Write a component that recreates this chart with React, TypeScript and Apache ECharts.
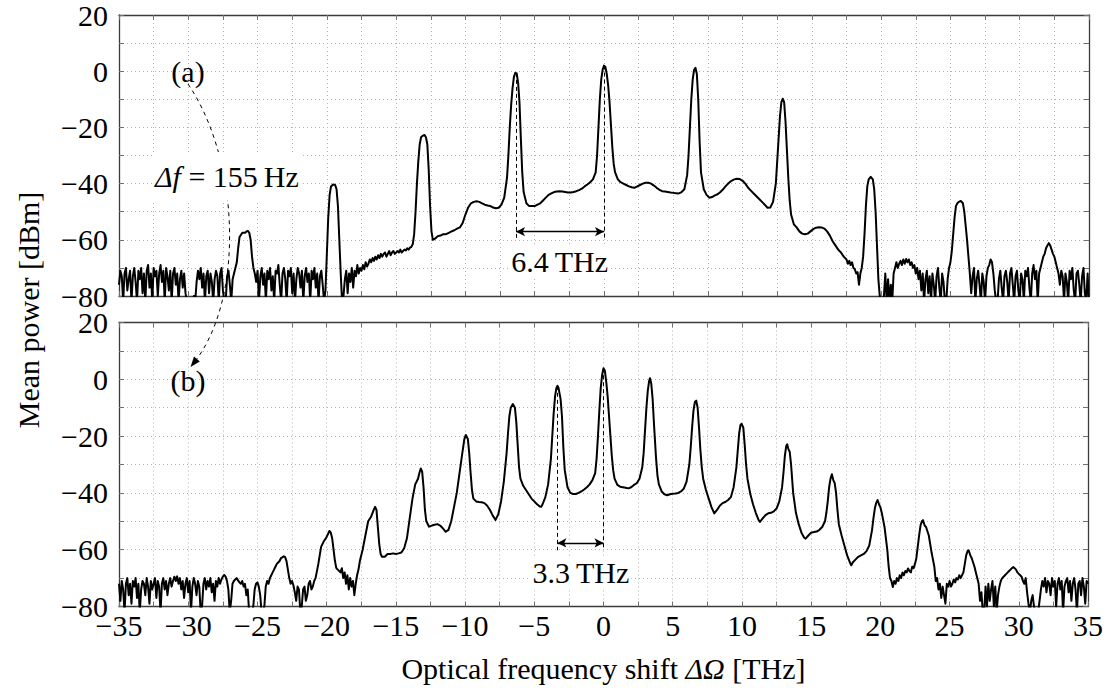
import React, { useEffect, useRef } from "react";
import * as echarts from "echarts";

// ---------- data ----------
// panel (a): Δf = 155 Hz, spectrum [frequency shift THz, mean power dBm]
const spectrumA: [number, number][] = [
  [-35.0, -76], [-34.9, -71], [-34.8, -73], [-34.7, -82], [-34.6, -72], [-34.5, -70], [-34.4, -78], [-34.3, -74],
  [-34.2, -71], [-34.1, -82], [-34.0, -73], [-33.9, -70], [-33.8, -75], [-33.7, -82], [-33.6, -71], [-33.5, -74],
  [-33.4, -70], [-33.3, -79], [-33.2, -72], [-33.1, -82], [-33.0, -71], [-32.9, -69], [-32.8, -77], [-32.7, -72],
  [-32.6, -82], [-32.5, -70], [-32.4, -73], [-32.3, -71], [-32.2, -80], [-32.1, -72], [-32.0, -69], [-31.9, -75],
  [-31.8, -71], [-31.7, -82], [-31.6, -70], [-31.5, -73], [-31.4, -78], [-31.3, -71], [-31.2, -82], [-31.1, -72],
  [-31.0, -70], [-30.9, -76], [-30.8, -72], [-30.7, -82], [-30.6, -74], [-30.5, -71], [-30.4, -77], [-30.3, -72],
  [-30.2, -79], [-30.1, -82], [-30.0, -82], [-29.9, -82], [-29.8, -82], [-29.7, -82], [-29.6, -80], [-29.5, -82],
  [-29.4, -75], [-29.3, -71], [-29.2, -74], [-29.1, -70], [-29.0, -77], [-28.9, -72], [-28.8, -82], [-28.7, -73],
  [-28.6, -71], [-28.5, -79], [-28.4, -72], [-28.3, -75], [-28.2, -82], [-28.1, -74], [-28.0, -71], [-27.9, -73],
  [-27.8, -82], [-27.7, -72], [-27.6, -70], [-27.5, -78], [-27.4, -82], [-27.3, -82], [-27.2, -73], [-27.1, -71],
  [-27.0, -76], [-26.9, -82], [-26.8, -74], [-26.7, -72], [-26.6, -70],
  [-26.5, -68], [-26.4, -63], [-26.3, -59], [-26.1, -57.5], [-25.9, -57.5], [-25.8, -57], [-25.7, -56.8],
  [-25.6, -57.5], [-25.5, -60], [-25.4, -66], [-25.3, -70],
  [-25.2, -72], [-25.1, -75], [-25.0, -71], [-24.9, -82], [-24.8, -73], [-24.7, -70], [-24.6, -76], [-24.5, -72],
  [-24.4, -82], [-24.3, -71], [-24.2, -74], [-24.1, -70], [-24.0, -78], [-23.9, -73], [-23.8, -82], [-23.7, -71],
  [-23.6, -72], [-23.5, -69], [-23.4, -76], [-23.3, -82], [-23.2, -72], [-23.1, -70], [-23.0, -74], [-22.9, -82],
  [-22.8, -71], [-22.7, -73], [-22.6, -70], [-22.5, -79], [-22.4, -72], [-22.3, -82], [-22.2, -74], [-22.1, -70],
  [-22.0, -72], [-21.9, -77], [-21.8, -71], [-21.7, -82], [-21.6, -73], [-21.5, -70], [-21.4, -75], [-21.3, -72],
  [-21.2, -82], [-21.1, -71], [-21.0, -74], [-20.9, -70], [-20.8, -77], [-20.7, -72], [-20.6, -82], [-20.5, -73],
  [-20.4, -71], [-20.3, -76], [-20.2, -82],
  [-20.1, -78], [-20.0, -65], [-19.9, -52], [-19.8, -44], [-19.7, -41], [-19.55, -40.3], [-19.4, -40.5],
  [-19.3, -42], [-19.2, -48], [-19.1, -60], [-19.0, -72], [-18.9, -82],
  [-18.8, -80], [-18.7, -74], [-18.6, -71], [-18.5, -79], [-18.4, -72], [-18.3, -75], [-18.2, -70], [-18.1, -77],
  [-18.0, -71], [-17.9, -73], [-17.8, -69], [-17.7, -72], [-17.6, -70], [-17.5, -71], [-17.4, -69], [-17.3, -70.5],
  [-17.2, -68], [-17.1, -69.5], [-17.0, -68.5], [-16.9, -67], [-16.8, -68], [-16.7, -66.5], [-16.6, -67.5],
  [-16.5, -66], [-16.4, -67], [-16.3, -65.5], [-16.2, -66.5], [-16.1, -65], [-16.0, -66], [-15.9, -65],
  [-15.8, -64.5], [-15.7, -66], [-15.6, -65], [-15.5, -64], [-15.4, -65.5], [-15.3, -64.5], [-15.2, -64],
  [-15.1, -65], [-15.0, -64.5], [-14.9, -64], [-14.8, -64.5], [-14.7, -63.5], [-14.6, -64.5], [-14.5, -64],
  [-14.4, -63.5], [-14.3, -63.8], [-14.2, -63], [-14.1, -63.5], [-14.0, -62.8], [-13.9, -62.5], [-13.8, -61.5],
  [-13.7, -58], [-13.6, -50], [-13.5, -40], [-13.4, -32], [-13.3, -26], [-13.2, -23.5], [-13.1, -23], [-12.95, -22.7],
  [-12.85, -23.5], [-12.75, -26], [-12.65, -35], [-12.55, -48], [-12.45, -57], [-12.35, -60],
  [-12.2, -59.6], [-12.0, -58.7], [-11.8, -58.5], [-11.6, -58], [-11.4, -58], [-11.2, -57.5], [-11.0, -57],
  [-10.8, -56.6], [-10.6, -56], [-10.4, -55.6], [-10.2, -54], [-10.0, -51], [-9.8, -48.5], [-9.6, -47],
  [-9.4, -46.5], [-9.2, -46.3], [-9.0, -46.5], [-8.8, -47], [-8.6, -47.5], [-8.4, -47.8], [-8.2, -48], [-8.0, -48.5],
  [-7.8, -48.8], [-7.6, -48.6], [-7.4, -47.5], [-7.2, -45], [-7.0, -38],
  [-6.9, -30], [-6.8, -20], [-6.7, -12], [-6.6, -6], [-6.5, -2], [-6.4, -0.6], [-6.3, -0.8], [-6.2, -4],
  [-6.1, -11], [-6.0, -24], [-5.9, -36], [-5.8, -43], [-5.6, -47], [-5.4, -48], [-5.2, -48], [-5.0, -48],
  [-4.8, -47.5], [-4.6, -47], [-4.4, -46], [-4.2, -45], [-4.0, -44], [-3.8, -43.5], [-3.6, -43], [-3.4, -42.8],
  [-3.2, -42.7], [-3.0, -42.8], [-2.8, -43], [-2.6, -43.2], [-2.4, -43.2], [-2.2, -43], [-2.0, -42.7], [-1.8, -42.3],
  [-1.6, -41.8], [-1.4, -41], [-1.2, -40.3], [-1.0, -39.5], [-0.8, -38.5], [-0.6, -36], [-0.5, -30], [-0.4, -20],
  [-0.3, -10], [-0.2, -3], [-0.1, 0.5], [0.0, 2], [0.1, 1.5], [0.2, -1], [0.3, -5], [0.4, -11], [0.5, -19],
  [0.6, -27], [0.7, -33], [0.8, -36], [1.0, -38.5], [1.2, -39.5], [1.4, -40], [1.6, -40.5], [1.8, -41], [2.0, -41.3],
  [2.2, -41.5], [2.4, -41], [2.6, -40.5], [2.8, -40], [3.0, -39.7], [3.2, -39.7], [3.4, -40], [3.6, -40.7],
  [3.8, -41.5], [4.0, -42.2], [4.2, -42.7], [4.4, -42.8], [4.6, -43], [4.8, -43.2], [5.0, -43.3], [5.2, -43.4],
  [5.4, -43.5], [5.6, -43], [5.8, -42], [6.0, -37], [6.1, -30], [6.2, -20], [6.3, -10], [6.4, -3], [6.5, 0.5],
  [6.6, 1.2], [6.7, -1], [6.8, -10], [6.9, -25], [7.0, -36], [7.2, -42], [7.4, -44], [7.6, -45], [7.8, -44.8],
  [8.0, -44.2], [8.2, -43.8], [8.4, -43], [8.6, -42], [8.8, -40.8], [9.0, -39.8], [9.2, -39], [9.4, -38.5],
  [9.6, -38.3], [9.8, -38.4], [10.0, -39], [10.2, -40], [10.4, -41.5], [10.6, -42.5], [10.8, -43.5], [11.0, -44.5],
  [11.2, -45.5], [11.4, -46.5], [11.6, -47.5], [11.8, -48.6], [12.0, -48.5], [12.2, -46.5], [12.4, -40], [12.5, -32],
  [12.6, -24], [12.7, -16], [12.8, -11], [12.9, -9.8], [13.0, -11], [13.1, -18], [13.2, -28], [13.3, -38],
  [13.4, -46], [13.5, -51], [13.7, -54.5], [13.9, -55.6], [14.1, -57], [14.3, -57.8], [14.5, -58], [14.7, -57.8],
  [14.9, -57], [15.1, -56.2], [15.3, -55.7], [15.5, -55.5], [15.7, -55.6], [15.9, -56], [16.1, -57], [16.3, -58.5],
  [16.5, -60.5], [16.7, -62], [16.9, -63.5], [17.1, -64.5], [17.3, -66], [17.5, -67], [17.6, -68.5], [17.7, -67.5],
  [17.8, -69], [17.9, -68], [18.0, -70], [18.1, -70.5], [18.2, -72], [18.3, -71.5], [18.4, -76], [18.5, -72],
  [18.6, -70],
  [18.7, -66], [18.8, -58], [18.9, -48], [19.0, -41], [19.1, -38.5], [19.25, -37.6], [19.4, -38.5], [19.5, -42],
  [19.6, -50], [19.7, -62], [19.8, -74], [19.9, -80], [20.0, -82], [20.1, -82],
  [20.2, -80], [20.3, -72], [20.4, -82], [20.5, -74], [20.6, -82], [20.7, -76], [20.8, -82], [20.9, -72],
  [21.0, -70], [21.1, -68], [21.2, -70], [21.3, -68.5], [21.4, -67.5], [21.5, -69], [21.6, -67], [21.7, -68.5],
  [21.8, -66.8], [21.9, -68], [22.0, -67], [22.1, -69], [22.2, -68], [22.3, -70], [22.4, -69], [22.5, -72],
  [22.6, -70], [22.7, -74], [22.8, -71], [22.9, -78], [23.0, -72], [23.1, -82], [23.2, -74], [23.3, -71],
  [23.4, -79], [23.5, -73], [23.6, -82], [23.7, -72], [23.8, -76], [23.9, -82], [24.0, -73], [24.1, -70],
  [24.2, -77], [24.3, -82], [24.4, -72], [24.5, -75], [24.6, -82], [24.7, -82], [24.8, -74], [24.9, -70],
  [25.0, -68], [25.1, -64], [25.2, -58], [25.3, -52], [25.4, -48], [25.5, -47], [25.6, -46.5], [25.75, -46.2],
  [25.9, -47], [26.0, -50], [26.1, -55], [26.2, -60], [26.3, -66],
  [26.4, -72], [26.5, -79], [26.6, -73], [26.7, -70], [26.8, -82], [26.9, -74], [27.0, -71], [27.1, -76],
  [27.2, -82], [27.3, -72], [27.4, -75], [27.5, -82], [27.6, -73], [27.7, -70], [27.8, -69], [27.9, -67],
  [28.0, -68], [28.1, -72], [28.2, -78], [28.3, -82], [28.4, -82], [28.5, -74], [28.6, -71], [28.7, -77],
  [28.8, -82], [28.9, -73], [29.0, -71], [29.1, -75], [29.2, -82], [29.3, -72], [29.4, -70], [29.5, -76],
  [29.6, -82], [29.7, -73], [29.8, -71], [29.9, -78], [30.0, -82], [30.1, -72], [30.2, -74], [30.3, -82],
  [30.4, -71], [30.5, -73], [30.6, -70], [30.7, -77], [30.8, -82], [30.9, -72], [31.0, -69], [31.1, -74],
  [31.2, -71], [31.3, -82], [31.4, -72], [31.5, -70], [31.6, -68], [31.7, -66], [31.8, -65], [31.9, -63],
  [32.0, -62], [32.1, -61.2], [32.2, -62], [32.3, -63.5], [32.4, -65], [32.5, -66], [32.6, -68], [32.7, -70],
  [32.8, -72], [32.9, -76], [33.0, -71], [33.1, -73], [33.2, -82], [33.3, -72], [33.4, -75], [33.5, -82],
  [33.6, -71], [33.7, -74], [33.8, -70], [33.9, -78], [34.0, -82], [34.1, -72], [34.2, -71], [34.3, -76],
  [34.4, -82], [34.5, -73], [34.6, -70], [34.7, -79], [34.8, -82], [34.9, -72], [35.0, -82],
];

// panel (b): spectrum [frequency shift THz, mean power dBm]
const spectrumB: [number, number][] = [
  [-35.0, -72], [-34.9, -78], [-34.8, -71], [-34.7, -74], [-34.6, -82], [-34.5, -72], [-34.4, -70], [-34.3, -76],
  [-34.2, -72], [-34.1, -79], [-34.0, -71], [-33.9, -73], [-33.8, -70], [-33.7, -77], [-33.6, -72], [-33.5, -82],
  [-33.4, -74], [-33.3, -71], [-33.2, -72], [-33.1, -76], [-33.0, -70], [-32.9, -73], [-32.8, -79], [-32.7, -71],
  [-32.6, -74], [-32.5, -72], [-32.4, -70], [-32.3, -77], [-32.2, -71], [-32.1, -73], [-32.0, -82], [-31.9, -72],
  [-31.8, -70], [-31.7, -74], [-31.6, -71], [-31.5, -76], [-31.4, -72], [-31.3, -70], [-31.2, -73], [-31.1, -71],
  [-31.0, -69.5], [-30.9, -71], [-30.8, -69.4], [-30.7, -72], [-30.6, -70], [-30.5, -74], [-30.4, -71], [-30.3, -77],
  [-30.2, -72], [-30.1, -70], [-30.0, -75], [-29.9, -71], [-29.8, -82], [-29.7, -73], [-29.6, -70], [-29.5, -72],
  [-29.4, -76], [-29.3, -71], [-29.2, -73], [-29.1, -82], [-29.0, -80], [-28.9, -72], [-28.8, -70], [-28.7, -74],
  [-28.6, -71], [-28.5, -73], [-28.4, -70], [-28.3, -75], [-28.2, -72], [-28.1, -78], [-28.0, -71], [-27.9, -73],
  [-27.8, -70], [-27.7, -72], [-27.6, -70.5], [-27.5, -69.5], [-27.4, -68.9], [-27.3, -69.5], [-27.2, -71],
  [-27.1, -74], [-27.0, -82], [-26.9, -78], [-26.8, -72], [-26.7, -71], [-26.6, -70.5], [-26.5, -70], [-26.4, -70.8],
  [-26.3, -71.5], [-26.2, -72], [-26.1, -71], [-26.0, -73], [-25.9, -72], [-25.8, -76], [-25.7, -74], [-25.6, -82],
  [-25.5, -82], [-25.4, -82], [-25.3, -80], [-25.2, -74], [-25.1, -72], [-25.0, -71.5], [-24.9, -73], [-24.8, -76],
  [-24.7, -82], [-24.6, -82], [-24.5, -80], [-24.4, -73], [-24.3, -71], [-24.2, -72], [-24.1, -70], [-24.0, -69],
  [-23.9, -68], [-23.8, -67], [-23.7, -66], [-23.6, -65], [-23.5, -64.5], [-23.4, -64], [-23.3, -63], [-23.2, -62.7],
  [-23.1, -62.3], [-23.0, -62.6], [-22.9, -64], [-22.8, -67], [-22.7, -70], [-22.6, -72], [-22.5, -71],
  [-22.4, -72.5], [-22.3, -75], [-22.2, -78], [-22.1, -73], [-22.0, -74], [-21.9, -82], [-21.8, -80], [-21.7, -74],
  [-21.6, -73], [-21.5, -78], [-21.4, -76], [-21.3, -72], [-21.2, -71], [-21.1, -74], [-21.0, -73], [-20.9, -71],
  [-20.8, -70],
  [-20.6, -65], [-20.4, -59], [-20.2, -57], [-20.0, -55.5], [-19.8, -53.4], [-19.7, -54], [-19.6, -56], [-19.5, -60],
  [-19.4, -64], [-19.3, -66.5], [-19.2, -67], [-19.0, -68], [-18.9, -66.5], [-18.8, -70], [-18.7, -68], [-18.6, -72],
  [-18.5, -69], [-18.4, -74], [-18.3, -70], [-18.2, -73], [-18.1, -71], [-18.0, -76], [-17.9, -72], [-17.8, -69],
  [-17.7, -67], [-17.6, -64], [-17.4, -60], [-17.2, -55], [-17.0, -50], [-16.8, -48.5], [-16.6, -46], [-16.5, -44.9],
  [-16.4, -46], [-16.3, -52], [-16.2, -58], [-16.1, -61.5], [-16.0, -62.5], [-15.8, -62.5], [-15.6, -61.5],
  [-15.4, -61.5], [-15.2, -61.3], [-15.0, -61.5], [-14.8, -61.3], [-14.6, -61], [-14.4, -59.5], [-14.2, -56],
  [-14.0, -49], [-13.8, -42], [-13.6, -37], [-13.4, -35], [-13.3, -33], [-13.2, -31.4], [-13.1, -32.5], [-13.0, -38],
  [-12.9, -46], [-12.8, -50], [-12.6, -51.9], [-12.4, -51.5], [-12.2, -51.2], [-12.0, -51], [-11.8, -51.5],
  [-11.6, -52.5], [-11.4, -53.7], [-11.2, -53], [-11.0, -50], [-10.8, -45], [-10.6, -40], [-10.4, -33], [-10.2, -26],
  [-10.05, -21], [-9.95, -19.6], [-9.8, -21], [-9.7, -26], [-9.6, -33], [-9.5, -39], [-9.4, -42], [-9.2, -43],
  [-9.0, -43.2], [-8.8, -43.3], [-8.6, -43.6], [-8.4, -44.5], [-8.2, -46], [-8.0, -48], [-7.8, -49.5], [-7.6, -47.5],
  [-7.4, -43], [-7.2, -36], [-7.0, -26], [-6.9, -19], [-6.8, -13], [-6.7, -10], [-6.55, -8.7], [-6.4, -10],
  [-6.3, -15], [-6.2, -23], [-6.1, -31], [-6.0, -35], [-5.8, -37.5], [-5.6, -39], [-5.4, -40.5], [-5.2, -42],
  [-5.0, -43], [-4.8, -44], [-4.6, -44.8], [-4.5, -44.9], [-4.4, -44], [-4.2, -41.5], [-4.0, -37], [-3.8, -28],
  [-3.7, -20], [-3.6, -12], [-3.5, -6], [-3.4, -3], [-3.33, -2.3], [-3.25, -3], [-3.1, -7], [-3.0, -13],
  [-2.9, -24], [-2.8, -32], [-2.6, -38], [-2.4, -40], [-2.2, -40.4], [-2.0, -40.4], [-1.8, -40], [-1.6, -39.5],
  [-1.4, -38.8], [-1.2, -38], [-1.0, -37], [-0.8, -35.5], [-0.6, -33], [-0.5, -28], [-0.4, -20], [-0.3, -11],
  [-0.2, -3], [-0.1, 1.5], [0.0, 3.9], [0.1, 3], [0.2, -1], [0.3, -6], [0.4, -13], [0.5, -20], [0.6, -27],
  [0.7, -32], [0.8, -35], [1.0, -37.2], [1.2, -37.8], [1.4, -38], [1.6, -38.2], [1.8, -38.4], [2.0, -38],
  [2.2, -37.2], [2.4, -36.6], [2.6, -35], [2.8, -31], [2.9, -26], [3.0, -18], [3.1, -10], [3.2, -4], [3.3, -0.5],
  [3.36, 0.4], [3.45, -1.5], [3.55, -7], [3.65, -16], [3.8, -28], [3.9, -34], [4.0, -37], [4.2, -39.5],
  [4.4, -40.5], [4.6, -40.8], [4.8, -40.5], [5.0, -40.3], [5.2, -40.2], [5.4, -40], [5.6, -39.5], [5.8, -38.5],
  [6.0, -36], [6.2, -30], [6.3, -24], [6.4, -17], [6.5, -11], [6.6, -8], [6.7, -7.5], [6.8, -10], [6.9, -17],
  [7.0, -25], [7.1, -31], [7.2, -35], [7.4, -39], [7.6, -42], [7.8, -45], [8.0, -47.2], [8.2, -46], [8.4, -44.5],
  [8.6, -43.6], [8.8, -43.2], [9.0, -42.5], [9.2, -41.5], [9.4, -38], [9.6, -31], [9.7, -25], [9.8, -19], [9.9, -16],
  [9.98, -15.7], [10.1, -17], [10.2, -23], [10.3, -30], [10.4, -35], [10.6, -40.3], [10.8, -44], [11.0, -47],
  [11.2, -49.5], [11.3, -50.2], [11.5, -49], [11.7, -47.8], [11.9, -47.2], [12.1, -47], [12.3, -46.5], [12.5, -45.5],
  [12.7, -43], [12.9, -38], [13.0, -33], [13.1, -27], [13.2, -23.5], [13.27, -22.9], [13.35, -24.5], [13.45, -25.5],
  [13.55, -30], [13.7, -40], [13.9, -47], [14.1, -51], [14.3, -54], [14.5, -55.8], [14.6, -56.1], [14.8, -55],
  [15.0, -54], [15.2, -53.8], [15.4, -53.6], [15.6, -53], [15.8, -52], [16.0, -50], [16.1, -47], [16.2, -43],
  [16.3, -38], [16.4, -35], [16.5, -33.4], [16.6, -35.5], [16.7, -36.5], [16.8, -40], [16.9, -46], [17.0, -51],
  [17.2, -55], [17.4, -58.5], [17.6, -62], [17.8, -64.5], [17.9, -65.5], [18.0, -64.5], [18.2, -63.5], [18.4, -62.5],
  [18.6, -62], [18.8, -61.5], [19.0, -60.5], [19.2, -58.5], [19.4, -53], [19.5, -49], [19.6, -45.5], [19.7, -43.5],
  [19.8, -42.5], [19.9, -44], [20.0, -45], [20.1, -47], [20.3, -52], [20.5, -60], [20.6, -66], [20.7, -70],
  [20.8, -71], [20.9, -73.1], [21.0, -71], [21.1, -72], [21.2, -70], [21.3, -71], [21.4, -69], [21.5, -70],
  [21.6, -68], [21.7, -69], [21.8, -67.5], [21.9, -68], [22.0, -66.6], [22.1, -67.5], [22.2, -68], [22.3, -66],
  [22.4, -66.5], [22.5, -65], [22.6, -63], [22.7, -59], [22.8, -55], [22.9, -51.5], [23.0, -50], [23.08, -49.6],
  [23.2, -51.5], [23.3, -52], [23.5, -55], [23.7, -61], [23.9, -66], [24.0, -71], [24.1, -70], [24.2, -74],
  [24.3, -72], [24.4, -77], [24.5, -73], [24.6, -76], [24.7, -79], [24.8, -72], [24.9, -73], [25.0, -71],
  [25.1, -73], [25.2, -72], [25.3, -70.5], [25.4, -71.5], [25.5, -70], [25.6, -70.5], [25.7, -69], [25.8, -70],
  [25.9, -69], [26.0, -68], [26.1, -65], [26.2, -62], [26.3, -60.5], [26.38, -60.2], [26.5, -62], [26.6, -63],
  [26.8, -66], [26.9, -68], [27.0, -70], [27.1, -72], [27.2, -78], [27.3, -75], [27.4, -82], [27.5, -82],
  [27.6, -73], [27.7, -80], [27.8, -72], [27.9, -78], [28.0, -74], [28.1, -71], [28.2, -80], [28.3, -73],
  [28.4, -82], [28.5, -76], [28.6, -73], [28.7, -71], [28.8, -70], [28.9, -69.5], [29.0, -69], [29.1, -68.5],
  [29.2, -68], [29.3, -67.5], [29.4, -67], [29.5, -66.5], [29.6, -66.1], [29.7, -66.5], [29.8, -67], [29.9, -68],
  [30.0, -68.5], [30.1, -69], [30.2, -69.5], [30.3, -71], [30.4, -72], [30.5, -70], [30.6, -75], [30.7, -79],
  [30.8, -82], [30.9, -78], [31.0, -76], [31.1, -80], [31.2, -82], [31.3, -82], [31.4, -82], [31.5, -78],
  [31.6, -74], [31.7, -71], [31.8, -73], [31.9, -70], [32.0, -75], [32.1, -71], [32.2, -72], [32.3, -76],
  [32.4, -70], [32.5, -73], [32.6, -71], [32.7, -80], [32.8, -72], [32.9, -70], [33.0, -74], [33.1, -71],
  [33.2, -82], [33.3, -73], [33.4, -71], [33.5, -70], [33.6, -75], [33.7, -71], [33.8, -78], [33.9, -72],
  [34.0, -70], [34.1, -74], [34.2, -82], [34.3, -72], [34.4, -71], [34.5, -76], [34.6, -70], [34.7, -73],
  [34.8, -79], [34.9, -71], [35.0, -72],
];

// comb-spacing annotations: [left line THz, right line THz], peak tops (dBm)
const spacingLinesA = [-6.35, 0];
const spacingPeaksA = [-0.6, 2];
const spacingLinesB = [-3.33, 0];
const spacingPeaksB = [-2.3, 3.9];
const spacingTexts = ["6.4\u2009THz", "3.3\u2009THz"];
const spacingTextPosA: [number, number] = [-3.2, -67.7];
const spacingTextPosB: [number, number] = [-1.64, -68.1];
const arrowLevels = [-57.1, -57.6];
const dashBottoms = [-60, -60.2];
const panelLabels = ["(a)", "(b)"];
const offsetText = "{i|\u0394f} = 155\u2009Hz";

const FREQ_MIN = -35;
const FREQ_MAX = 35;
const POWER_MIN = -80;
const POWER_MAX = 20;

// ---------- styling ----------
const FONT = '"Liberation Serif", "Times New Roman", serif';
const FS = 30;
const GRID_LEFT = 119;
const GRID_WIDTH = 970;
const GRID_HEIGHT = 284;
const GRID_TOPS = [12, 322.5];

const fmtNum = (v: number) => String(v).replace("-", "\u2212");
const gridDots = { type: [1, 3] as any, color: "#b4b4b4", width: 1 };
const frameLine = { color: "#3a3a3a", width: 1.3 };
const tickLine = { color: "#707070", width: 1 };

function xAxisFor(gridIndex: number, position: "bottom" | "top", labels: boolean, name?: string) {
  return {
    type: "value",
    gridIndex,
    position,
    min: FREQ_MIN,
    max: FREQ_MAX,
    interval: 5,
    axisLine: { show: true, onZero: false, lineStyle: frameLine },
    axisTick: { show: true, inside: true, length: 5, lineStyle: tickLine },
    minorTick: { show: true, splitNumber: 2, length: 5, lineStyle: tickLine },
    splitLine: { show: position === "bottom", lineStyle: gridDots },
    minorSplitLine: { show: position === "bottom", lineStyle: gridDots },
    axisLabel: {
      show: labels,
      margin: 6,
      fontFamily: FONT,
      fontSize: FS,
      lineHeight: 26,
      color: "#000",
      formatter: fmtNum,
    },
    name: name || "",
    nameLocation: "middle",
    nameGap: 47,
    nameTextStyle: {
      fontFamily: FONT,
      fontSize: FS,
      color: "#000",
      rich: { i: { fontFamily: FONT, fontSize: FS, fontStyle: "italic", color: "#000" } },
    },
  };
}

function yAxisFor(gridIndex: number, position: "left" | "right", labels: boolean) {
  return {
    type: "value",
    gridIndex,
    position,
    min: POWER_MIN,
    max: POWER_MAX,
    interval: 20,
    axisLine: { show: true, onZero: false, lineStyle: frameLine },
    axisTick: { show: true, inside: true, length: 5, lineStyle: tickLine },
    minorTick: { show: true, splitNumber: 2, length: 5, lineStyle: tickLine },
    splitLine: { show: position === "left", lineStyle: gridDots },
    minorSplitLine: { show: position === "left", lineStyle: gridDots },
    axisLabel: {
      show: labels,
      margin: 11,
      fontFamily: FONT,
      fontSize: FS,
      lineHeight: 24,
      color: "#000",
      formatter: fmtNum,
    },
  };
}

function panelSeries(
  idx: number,
  data: [number, number][],
  lines: number[],
  peaks: number[],
  arrowY: number,
  dashEnd: number
) {
  const axisIdx = idx * 2;
  const dash = { type: [4, 3] as any, color: "#000", width: 1 };
  return {
    type: "line",
    xAxisIndex: axisIdx,
    yAxisIndex: axisIdx,
    data,
    showSymbol: false,
    symbol: "none",
    silent: true,
    clip: true,
    z: 3,
    lineStyle: { color: "#000", width: 2, join: "round" },
    markLine: {
      silent: true,
      symbol: "none",
      animation: false,
      label: { show: false },
      emphasis: { disabled: true },
      data: [
        [{ coord: [lines[0], peaks[0]], lineStyle: dash }, { coord: [lines[0], dashEnd] }],
        [{ coord: [lines[1], peaks[1]], lineStyle: dash }, { coord: [lines[1], dashEnd] }],
        [
          {
            coord: [lines[0], arrowY],
            symbol: "arrow",
            symbolSize: [7, 9],
            lineStyle: { type: "solid", color: "#000", width: 1.3 },
          },
          { coord: [lines[1], arrowY], symbol: "arrow", symbolSize: [7, 9] },
        ],
      ],
    },
  };
}

function spacingLabel(id: string, pos: number[], text: string) {
  return {
    type: "text",
    id,
    x: pos[0],
    y: pos[1],
    z: 100,
    style: {
      text,
      fontFamily: FONT,
      fontSize: FS,
      fill: "#000",
      align: "center",
      verticalAlign: "middle",
      backgroundColor: "#fff",
      padding: [0, 2],
    },
  };
}

export default function App() {
  const ref = useRef<HTMLDivElement>(null);

  useEffect(() => {
    document.body.style.margin = "0";
    if (!ref.current) return;
    const chart = echarts.init(ref.current, undefined, { renderer: "svg" });

    const grids = GRID_TOPS.map((top) => ({
      left: GRID_LEFT,
      top,
      width: GRID_WIDTH,
      height: GRID_HEIGHT,
      containLabel: false,
    }));

    const option: any = {
      animation: false,
      backgroundColor: "#fff",
      textStyle: { fontFamily: FONT },
      grid: grids,
      xAxis: [
        xAxisFor(0, "bottom", false),
        xAxisFor(0, "top", false),
        xAxisFor(1, "bottom", true, "Optical frequency shift {i|\u0394\u03a9} [THz]"),
        xAxisFor(1, "top", false),
      ],
      yAxis: [
        yAxisFor(0, "left", true),
        yAxisFor(0, "right", false),
        yAxisFor(1, "left", true),
        yAxisFor(1, "right", false),
      ],
      series: [
        panelSeries(0, spectrumA, spacingLinesA, spacingPeaksA, arrowLevels[0], dashBottoms[0]),
        panelSeries(1, spectrumB, spacingLinesB, spacingPeaksB, arrowLevels[1], dashBottoms[1]),
      ],
    };

    chart.setOption(option);

    const pA = chart.convertToPixel({ xAxisIndex: 0, yAxisIndex: 0 } as any, spacingTextPosA) as number[];
    const pB = chart.convertToPixel({ xAxisIndex: 2, yAxisIndex: 2 } as any, spacingTextPosB) as number[];

    chart.setOption({
      graphic: [
        spacingLabel("spacingA", pA, spacingTexts[0]),
        spacingLabel("spacingB", pB, spacingTexts[1]),
        {
          type: "text",
          id: "ytitle",
          x: 28,
          y: 310,
          rotation: Math.PI / 2,
          z: 100,
          style: {
            text: "Mean power [dBm]",
            fontFamily: FONT,
            fontSize: FS,
            fill: "#000",
            align: "center",
            verticalAlign: "middle",
          },
        },
        {
          type: "bezierCurve",
          id: "curve",
          z: 90,
          shape: { x1: 188, y1: 84, cpx1: 240, cpy1: 160, cpx2: 245, cpy2: 300, x2: 193, y2: 364 },
          style: { stroke: "#000", lineWidth: 1, lineDash: [4, 4], fill: null },
        },
        {
          type: "polygon",
          id: "curveHead",
          z: 91,
          shape: { points: [[190.5, 367], [199.8, 361.5], [197.2, 359.2], [194, 356.5]] },
          style: { fill: "#000" },
        },
        {
          type: "text",
          id: "labelA",
          x: 188,
          y: 71,
          z: 100,
          style: { text: panelLabels[0], fontFamily: FONT, fontSize: FS, fill: "#000", align: "center", verticalAlign: "middle" },
        },
        {
          type: "text",
          id: "labelB",
          x: 188,
          y: 380,
          z: 100,
          style: { text: panelLabels[1], fontFamily: FONT, fontSize: FS, fill: "#000", align: "center", verticalAlign: "middle" },
        },
        {
          type: "text",
          id: "offset",
          x: 153,
          y: 176,
          z: 100,
          style: {
            text: offsetText,
            fontFamily: FONT,
            fontSize: FS,
            fill: "#000",
            align: "left",
            verticalAlign: "middle",
            backgroundColor: "#fff",
            padding: [9, 2],
            rich: { i: { fontFamily: FONT, fontSize: FS, fontStyle: "italic", fill: "#000" } },
          },
        },
      ],
    });

    return () => chart.dispose();
  }, []);

  return <div ref={ref} style={{ width: "1106px", height: "693px" }} />;
}
